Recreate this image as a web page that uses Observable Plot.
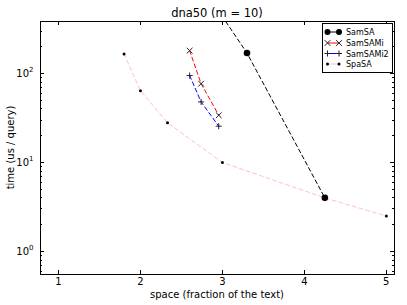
<!DOCTYPE html>
<html><head><meta charset="utf-8">
<script src="https://cdn.jsdelivr.net/npm/d3@7"></script>
<script src="https://cdn.jsdelivr.net/npm/@observablehq/plot@0.6"></script>
<style>
body{margin:0;background:#fff}
svg{font-family:"DejaVu Sans",sans-serif}
</style>
</head><body><div id="chart"></div>
<script>
// ---- data ----
const samSA_x = [2.85, 3.3, 4.25];
const samSA_y = [700, 170, 4.0];
const samSAMi_x = [2.6, 2.74, 2.955];
const samSAMi_y = [181, 77, 34];
const samSAMi2_x = [2.6, 2.74, 2.955];
const samSAMi2_y = [95, 48, 25.6];
const spaSA_x = [1.8, 2.0, 2.33, 3.0, 4.25, 5.0];
const spaSA_y = [166, 64, 28, 10, 4.0, 2.5];
const xTicks = [1, 2, 3, 4, 5];
const yTicks = [1, 10, 100];
const yExp = ["0", "1", "2"];
const yMinor = [0.6,0.7,0.8,0.9,2,3,4,5,6,7,8,9,20,30,40,50,60,70,80,90,200,300];
const seriesNames = ["SamSA", "SamSAMi", "SamSAMi2", "SpaSA"];
const titleText = "dna50 (m = 10)";
const xLabel = "space (fraction of the text)";
const yLabel = "time (us / query)";

const rows = (xs, ys) => xs.map((x, i) => ({x, y: ys[i]}));
const dash = "4,3";
const rTimes = 2.7, rPlus = 2.1;

const chart = Plot.plot({
  width: 407, height: 305,
  marginLeft: 40, marginRight: 13, marginTop: 21, marginBottom: 31,
  style: {fontFamily: "DejaVu Sans", fontSize: "10px", background: "white", color: "black"},
  x: {domain: [0.78, 5.1], axis: null},
  y: {type: "log", domain: [0.55, 385], axis: null},
  marks: [
    Plot.line(rows(spaSA_x, spaSA_y), {x: "x", y: "y", stroke: "#ffc0cb", strokeWidth: 1, strokeDasharray: dash, clip: true}),
    Plot.line(rows(samSA_x, samSA_y), {x: "x", y: "y", stroke: "black", strokeWidth: 1, strokeDasharray: dash, clip: true}),
    Plot.line(rows(samSAMi_x, samSAMi_y), {x: "x", y: "y", stroke: "red", strokeWidth: 1, strokeDasharray: dash, clip: true}),
    Plot.line(rows(samSAMi2_x, samSAMi2_y), {x: "x", y: "y", stroke: "blue", strokeWidth: 1, strokeDasharray: dash, clip: true}),
    Plot.dot(rows(spaSA_x, spaSA_y), {x: "x", y: "y", r: 1.5, fill: "black", clip: true}),
    Plot.dot(rows(samSA_x, samSA_y), {x: "x", y: "y", r: 3.3, fill: "black", clip: true}),
    Plot.dot(rows(samSAMi_x, samSAMi_y), {x: "x", y: "y", symbol: "times", r: rTimes, stroke: "#222", strokeWidth: 1, clip: true}),
    Plot.dot(rows(samSAMi2_x, samSAMi2_y), {x: "x", y: "y", symbol: "plus", r: rPlus, stroke: "#222", strokeWidth: 1, clip: true}),
    Plot.frame({stroke: "black", strokeWidth: 1}),
    Plot.axisX({ticks: xTicks, tickSize: 0, tickPadding: 3.5, label: null, fontSize: 10, tickFormat: d => String(d)}),
    Plot.text(yTicks, {y: d => d, text: () => "10", frameAnchor: "left", textAnchor: "end", dx: -11.5, fontSize: 10}),
    Plot.text(yTicks, {y: d => d, text: (d, i) => yExp[i], frameAnchor: "left", textAnchor: "start", dx: -11.5, dy: -3.5, fontSize: 7})
  ]
});
document.getElementById("chart").appendChild(chart);

// ---- inward ticks, labels, legend ----
const svg = d3.select(chart);
const sx = chart.scale("x"), sy = chart.scale("y");
const L = 40, R = 407 - 13, T = 21, B = 305 - 31;
const g = svg.append("g").attr("stroke", "black").attr("stroke-width", 1);
xTicks.forEach(v => {
  const px = Math.round(sx.apply(v)) + 0.5;
  g.append("line").attr("x1", px).attr("x2", px).attr("y1", B).attr("y2", B - 4);
  g.append("line").attr("x1", px).attr("x2", px).attr("y1", T).attr("y2", T + 4);
});
yTicks.forEach(v => {
  const py = Math.round(sy.apply(v)) + 0.5;
  g.append("line").attr("x1", L).attr("x2", L + 4).attr("y1", py).attr("y2", py);
  g.append("line").attr("x1", R).attr("x2", R - 4).attr("y1", py).attr("y2", py);
});
yMinor.forEach(v => {
  const py = Math.round(sy.apply(v)) + 0.5;
  g.append("line").attr("x1", L).attr("x2", L + 2).attr("y1", py).attr("y2", py);
  g.append("line").attr("x1", R).attr("x2", R - 2).attr("y1", py).attr("y2", py);
});

svg.append("text").attr("x", (L + R) / 2).attr("y", 17).attr("text-anchor", "middle")
  .attr("font-size", 11.5).attr("fill", "black").text(titleText);
svg.append("text").attr("x", (L + R) / 2).attr("y", 298).attr("text-anchor", "middle")
  .attr("font-size", 10).attr("fill", "black").text(xLabel);
svg.append("text").attr("transform", `translate(14,${(T + B) / 2}) rotate(-90)`).attr("text-anchor", "middle")
  .attr("font-size", 10).attr("fill", "black").text(yLabel);

// legend
const lg = svg.append("g");
lg.append("rect").attr("x", 322.5).attr("y", 23.5).attr("width", 70).attr("height", 49)
  .attr("fill", "white").attr("stroke", "black").attr("stroke-width", 1);
const legendRows = [
  {name: seriesNames[0], color: "black", sym: "dot", r: 3},
  {name: seriesNames[1], color: "red", sym: d3.symbolTimes, r: rTimes},
  {name: seriesNames[2], color: "blue", sym: d3.symbolPlus, r: rPlus},
  {name: seriesNames[3], color: "#ffc0cb", sym: "dot", r: 1.5}
];
const rowY = [32, 43, 53.5, 64];
legendRows.forEach((d, i) => {
  const y = rowY[i];
  lg.append("line").attr("x1", 327.5).attr("x2", 339).attr("y1", y).attr("y2", y)
    .attr("stroke", d.color).attr("stroke-width", 1);
  [327.5, 339].forEach(x => {
    if (d.sym === "dot") {
      lg.append("circle").attr("cx", x).attr("cy", y).attr("r", d.r).attr("fill", "black");
    } else {
      lg.append("path").attr("transform", `translate(${x},${y})`)
        .attr("d", d3.symbol(d.sym, Math.PI * d.r * d.r)())
        .attr("fill", "none").attr("stroke", "#222").attr("stroke-width", 1);
    }
  });
  lg.append("text").attr("x", 346).attr("y", y + 3).attr("text-anchor", "start")
    .attr("font-size", 8).attr("fill", "black").text(d.name);
});
</script>
</body></html>
